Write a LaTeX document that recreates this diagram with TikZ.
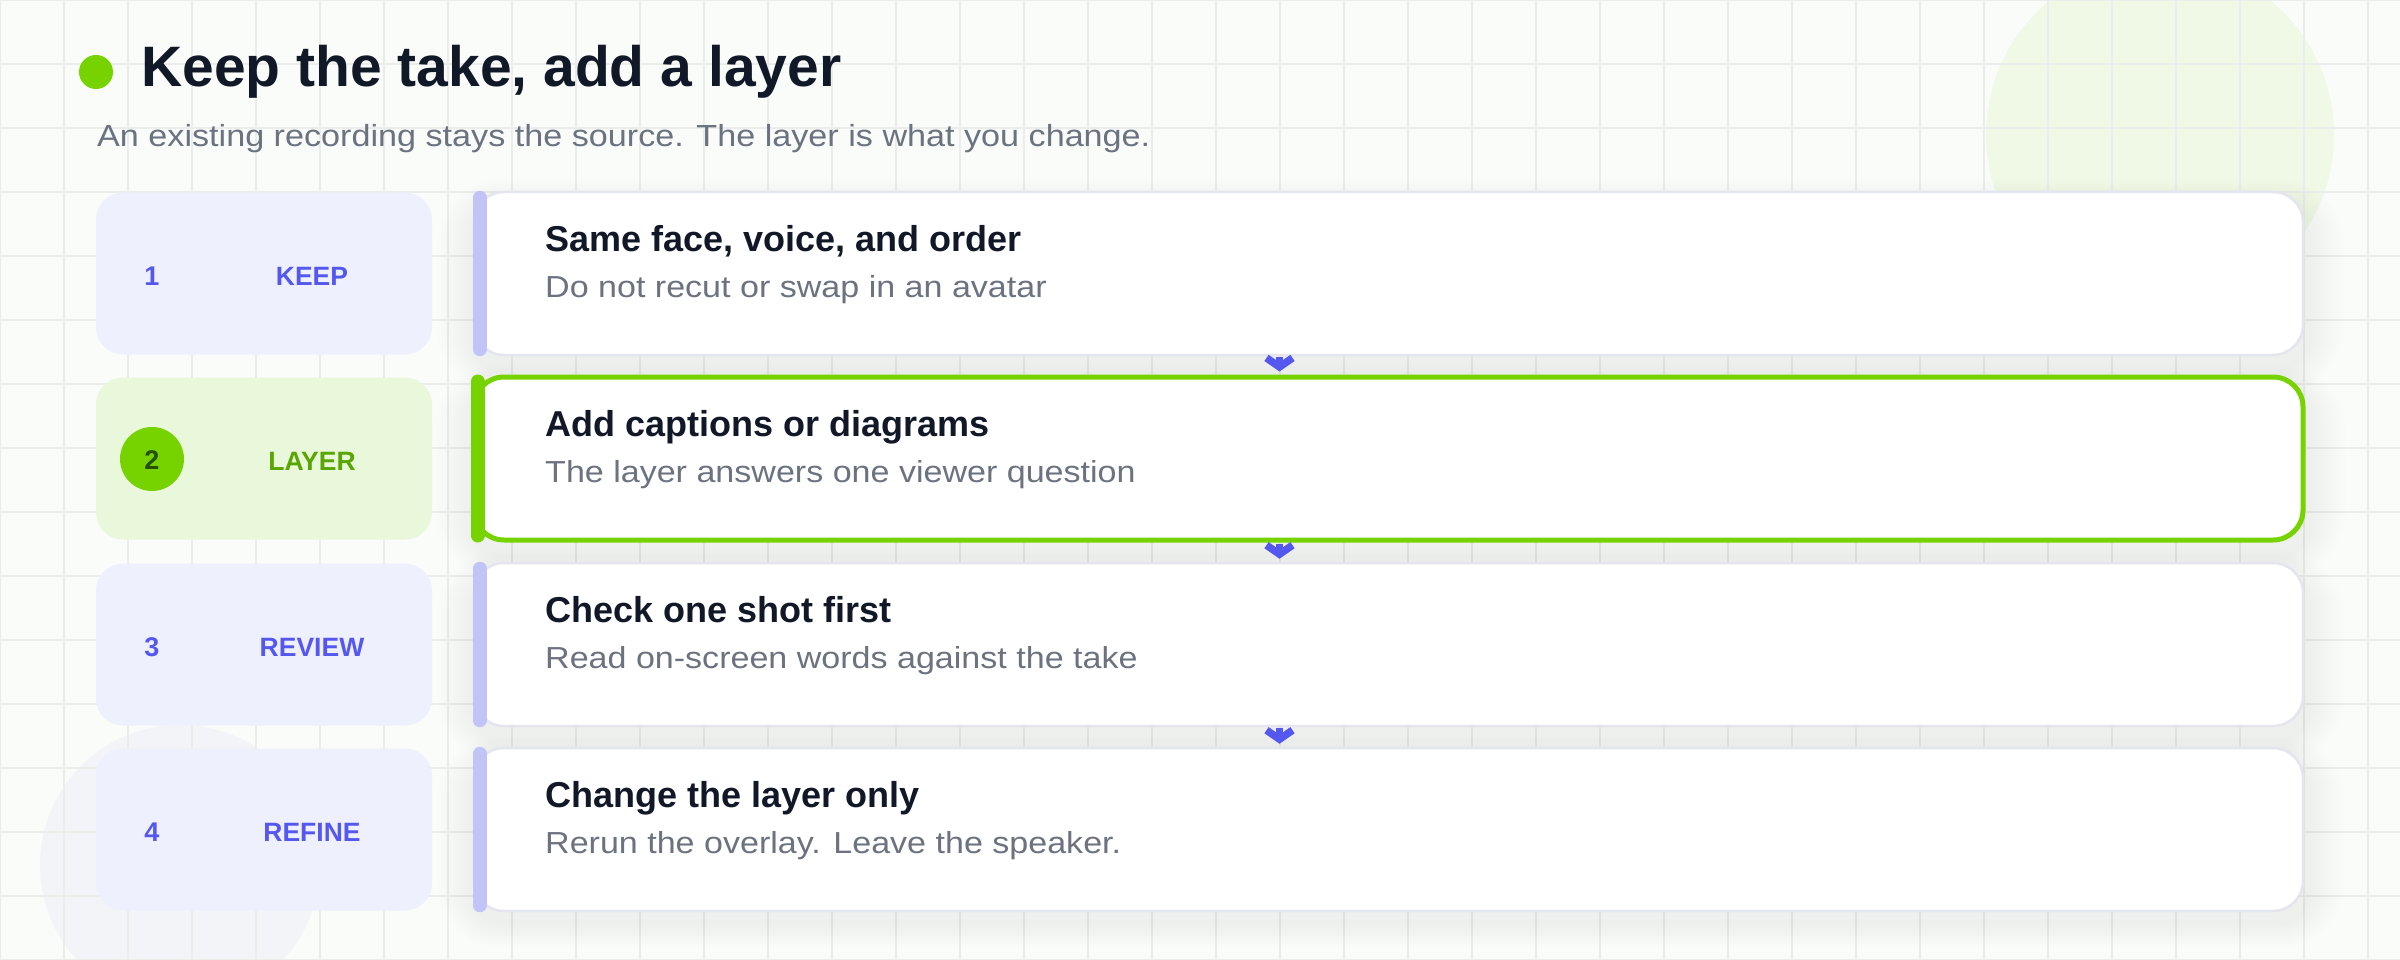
\documentclass[tikz,border=0pt]{standalone}
\usepackage{fontspec}
\setmainfont{Liberation Sans}
\newfontfamily\bodyfont{Liberation Sans}[FakeStretch=1.12]
\usetikzlibrary{arrows.meta,calc}
\definecolor{bgc}{HTML}{FAFCFA}
\definecolor{gridc}{HTML}{EAEDEA}
\definecolor{decogreen}{HTML}{F0F8E6}
\definecolor{decogray}{HTML}{F3F4F7}
\definecolor{titlec}{HTML}{111827}
\definecolor{subc}{HTML}{6B7280}
\definecolor{brandgreen}{HTML}{77D300}
\definecolor{darkgreen}{HTML}{245000}
\definecolor{labelgreen}{HTML}{58A600}
\definecolor{indigo}{HTML}{5558EE}
\definecolor{barpurple}{HTML}{C2C4F7}
\definecolor{lavender}{HTML}{EEF0FD}
\definecolor{palegreen}{HTML}{E9F7DA}
\definecolor{cardborder}{HTML}{E3E5EF}
\pgfdeclarelayer{bglayer}
\pgfdeclarelayer{shadowlayer}
\pgfsetlayers{bglayer,shadowlayer,main}
\tikzset{
  card/.style={draw=cardborder, line width=2.5pt, fill=white, rounded corners=30pt,
    minimum width=1829pt, minimum height=163pt, inner sep=0pt},
  activecard/.style={card, draw=brandgreen, line width=5pt},
  pill/.style={fill=lavender, rounded corners=27pt, minimum width=336pt,
    minimum height=162pt, inner sep=0pt},
  activepill/.style={pill, fill=palegreen},
  bar/.style={line width=14pt, line cap=round, draw=barpurple, shorten <=7pt, shorten >=7pt},
  activebar/.style={bar, draw=brandgreen},
  ctitle/.style={anchor=base west, inner sep=0pt, text=titlec, font=\fontsize{36}{40}\selectfont\bfseries},
  csub/.style={anchor=base west, inner sep=0pt, text=subc, font=\bodyfont\fontsize{30.4}{34}\selectfont},
  pnum/.style={anchor=base, inner sep=0pt, text=indigo, font=\fontsize{27}{30}\selectfont\bfseries},
  plabel/.style={anchor=base, inner sep=0pt, text=indigo, font=\fontsize{26.5}{30}\selectfont\bfseries},
  flow/.style={draw=indigo, line width=7.5pt, shorten <=1pt, shorten >=3pt,
    -{Straight Barb[length=9pt,width=26pt]}},
}
\begin{document}
\begin{tikzpicture}[x=1pt,y=-1pt]
\useasboundingbox (0,0) rectangle (2400,960);
\begin{pgfonlayer}{bglayer}
  \fill[bgc] (0,0) rectangle (2400,960);
  \fill[decogreen] (2160,135) circle[radius=174pt];
  \fill[decogray] (180,865) circle[radius=140pt];
  \foreach \gx in {0,64,...,2400} \draw[gridc, line width=1.3pt] (\gx,0) -- (\gx,960);
  \foreach \gy in {0,64,...,960} \draw[gridc, line width=1.3pt] (0,\gy) -- (2400,\gy);
\end{pgfonlayer}

% title
\node[circle, fill=brandgreen, minimum size=34pt, inner sep=0pt] (dot) at (96,72) {};
\node[anchor=base west, inner sep=0pt, text=titlec, font=\fontsize{57}{60}\selectfont\bfseries] (title) at (141,87) {Keep the take, add a layer};
\node[anchor=base west, inner sep=0pt, text=subc, font=\bodyfont\fontsize{30.5}{34}\selectfont] (subtitle) at (97,147) {An existing recording stays the source. The layer is what you change.};

% cards
\node[card] (c1) at (1388.5,273.5) {};
\node[activecard] (c2) at (1388.5,458.5) {};
\node[card] (c3) at (1388.5,644.5) {};
\node[card] (c4) at (1388.5,829.5) {};

\begin{pgfonlayer}{shadowlayer}
\foreach \c in {c1,c2,c3,c4}{
  \foreach \k in {1,...,12}{
    \pgfmathsetmacro\rr{30+3*\k}
    \fill[black, opacity=0.0045, rounded corners=\rr pt]
      ($(\c.north west)+(-3*\k,12-2*\k)$) rectangle ($(\c.south east)+(3*\k+4,12+2*\k)$);
  }
}
\end{pgfonlayer}

\draw[bar] ([xshift=7pt]c1.north west) -- ([xshift=7pt]c1.south west);
\draw[activebar] ([xshift=6pt]c2.north west) -- ([xshift=6pt]c2.south west);
\draw[bar] ([xshift=7pt]c3.north west) -- ([xshift=7pt]c3.south west);
\draw[bar] ([xshift=7pt]c4.north west) -- ([xshift=7pt]c4.south west);

\node[ctitle] (t1) at (545,251) {Same face, voice, and order};
\node[csub] (s1) at (545,297) {Do not recut or swap in an avatar};
\node[ctitle] (t2) at (545,436) {Add captions or diagrams};
\node[csub] (s2) at (545,482) {The layer answers one viewer question};
\node[ctitle] (t3) at (545,622) {Check one shot first};
\node[csub] (s3) at (545,668) {Read on-screen words against the take};
\node[ctitle] (t4) at (545,807) {Change the layer only};
\node[csub] (s4) at (545,853) {Rerun the overlay. Leave the speaker.};

% pills
\node[pill] (p1) at (264,273.5) {};
\node[activepill] (p2) at (264,458.5) {};
\node[pill] (p3) at (264,644.5) {};
\node[pill] (p4) at (264,829.5) {};

\node[pnum] (n1) at (152,285) {1};
\node[plabel] (l1) at (312,285) {KEEP};
\node[circle, fill=brandgreen, minimum size=64pt, inner sep=0pt] (g2) at (152,459) {};
\node[pnum, text=darkgreen] (n2) at (152,469) {2};
\node[plabel, text=labelgreen] (l2) at (312,470) {LAYER};
\node[pnum] (n3) at (152,656) {3};
\node[plabel] (l3) at (312,656) {REVIEW};
\node[pnum] (n4) at (152,841) {4};
\node[plabel] (l4) at (312,841) {REFINE};

% arrows
\coordinate (ax) at (1279.5,0);
\draw[flow] (c1.south -| ax) -- (c2.north -| ax);
\draw[flow] (c2.south -| ax) -- (c3.north -| ax);
\draw[flow] (c3.south -| ax) -- (c4.north -| ax);
\end{tikzpicture}
\end{document}
